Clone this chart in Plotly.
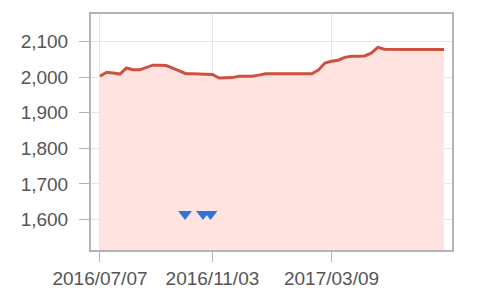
import plotly.graph_objects as go
import pandas as pd

# Weekly price series (Thursdays)
start_date = "2016-07-07"
prices = [2003, 2014, 2012, 2009, 2026, 2021, 2021, 2027, 2034, 2034,
          2033, 2026, 2018, 2010, 2010, 2010, 2010, 2008, 1998, 1998,
          1999, 2003, 2003, 2003, 2006, 2010, 2010, 2010, 2010, 2010,
          2010, 2010, 2010, 2020, 2040, 2045, 2048, 2056, 2059, 2059,
          2060, 2068, 2084, 2079, 2078, 2078, 2078, 2078, 2078, 2078,
          2078, 2078, 2078]
dates = pd.date_range(start_date, periods=len(prices), freq="7D")

# Signal markers
signal_dates = ["2016-10-05", "2016-10-24", "2016-11-01"]
signal_values = [1615, 1615, 1615]

tick_dates = ["2016-07-07", "2016-11-03", "2017-03-09"]
tick_labels = ["2016/07/07", "2016/11/03", "2017/03/09"]
y_ticks = [1600, 1700, 1800, 1900, 2000, 2100]

fig = go.Figure()
fig.add_trace(go.Scatter(
    x=dates, y=prices, mode="lines",
    line=dict(color="#d0503f", width=3),
    fill="tozeroy", fillcolor="#fee3e1",
    hoverinfo="skip", showlegend=False,
))
fig.add_trace(go.Scatter(
    x=signal_dates, y=signal_values, mode="markers",
    marker=dict(symbol="triangle-down", size=12, color="#2f74d9"),
    showlegend=False,
))

fig.update_layout(
    width=500, height=296,
    margin=dict(l=91, r=48, t=14, b=46, autoexpand=False),
    paper_bgcolor="white", plot_bgcolor="white",
    font=dict(family="Liberation Sans, Arial, sans-serif", size=19, color="#555555"),
    xaxis=dict(
        range=["2016-06-27 12:00", "2017-07-14 12:00"],
        tickvals=tick_dates, ticktext=tick_labels,
        showgrid=True, gridcolor="#e6e6e6", gridwidth=1,
        ticks="outside", ticklen=10, tickcolor="#b4b4b4", tickwidth=1,
        ticklabelstandoff=0, automargin=False,
        showline=True, linecolor="#b4b4b4", linewidth=2, mirror=True,
        zeroline=False,
    ),
    yaxis=dict(
        range=[1514, 2178],
        tickvals=y_ticks, tickformat=",",
        showgrid=True, gridcolor="#e6e6e6", gridwidth=1,
        ticks="outside", ticklen=10, tickcolor="#b4b4b4", tickwidth=1,
        ticklabelstandoff=7, automargin=False,
        showline=True, linecolor="#b4b4b4", linewidth=2, mirror=True,
        zeroline=False,
    ),
)

fig.write_html("out.html")
